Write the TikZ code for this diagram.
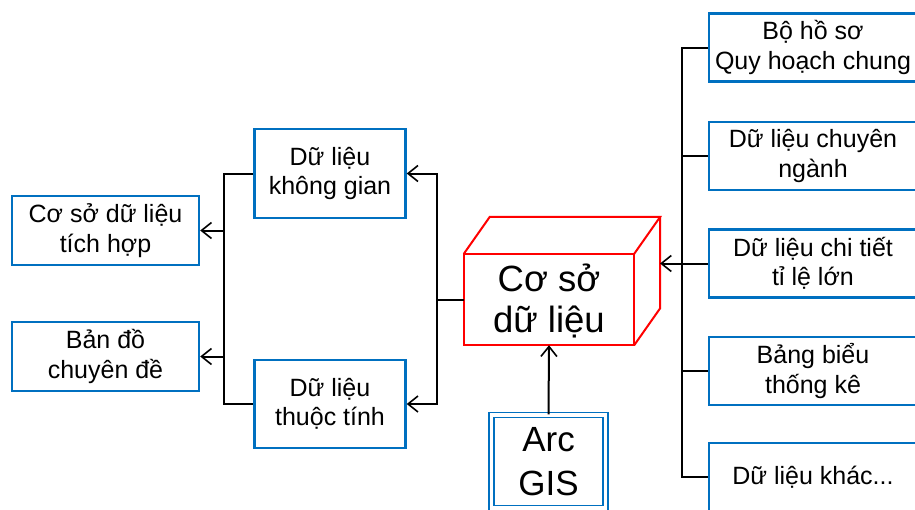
\documentclass[tikz,border=0pt]{standalone}
\usepackage{fontspec}
\setmainfont{Liberation Sans}
\usetikzlibrary{arrows.meta,calc}
\definecolor{boxblue}{RGB}{0,112,192}
\begin{document}
\begin{tikzpicture}[x=1pt,y=-1pt,
  box/.style={draw=boxblue, line width=2.4pt, align=center, inner sep=0pt,
    font=\fontsize{25}{29.5}\selectfont},
  link/.style={draw=black, line width=2pt},
  arr/.style={link, -{Straight Barb[length=10pt,width=16pt,line width=1.6pt]}},
  cube/.style={draw=red, line width=2pt, line join=miter}]
\clip (0,0) rectangle (915,509);
\fill[white] (0,0) rectangle (915,509);

% output products (left)
\node[box, minimum width=187pt, minimum height=69pt] (tichhop) at (105.5,230.5) {Cơ sở dữ liệu\\tích hợp};
\node[box, minimum width=187pt, minimum height=69pt] (bando) at (105.5,356.5) {Bản đồ\\chuyên đề};

% data types
\node[box, minimum width=151pt, minimum height=89pt] (khonggian) at (330,173.5) {Dữ liệu\\không gian};
\node[box, minimum width=151pt, minimum height=88pt] (thuoctinh) at (330,404) {Dữ liệu\\thuộc tính};

% central database drawn as a box in perspective
\node[minimum width=170pt, minimum height=91pt, inner sep=0pt] (front) at (549,299.5) {};
\coordinate (btl) at ($(front.north west)+(26,-37)$);
\coordinate (btr) at ($(front.north east)+(26,-37)$);
\coordinate (bbr) at ($(front.south east)+(26,-37)$);
\draw[cube] (front.north west) rectangle (front.south east);
\draw[cube] (front.north west) -- (btl) -- (btr) -- (front.north east);
\draw[cube] (btr) -- (bbr) -- (front.south east);
\node[align=center, font=\fontsize{36.5}{41}\selectfont] (fronttext) at (549,301) {Cơ sở\\dữ liệu};
\coordinate (cubeR) at (660,263.5);

% GIS software
\node[draw=boxblue, line width=1.4pt, double=white, double distance=3.4pt,
  minimum width=114pt, minimum height=93pt, inner sep=0pt,
  align=center, font=\fontsize{35}{44}\selectfont] (arcgis) at (548.5,461.5) {Arc\\GIS};

% source data (right)
\foreach \n/\y/\t in {r1/47.5/{Bộ hồ sơ\\Quy hoạch chung},
                      r2/156/{Dữ liệu chuyên\\ngành},
                      r3/263.5/{Dữ liệu chi tiết\\tỉ lệ lớn},
                      r4/371/{Bảng biểu\\thống kê},
                      r5/477/{Dữ liệu khác...}}
  \node[box, minimum width=208pt, minimum height=68pt] (\n) at (813,\y) {\t};

% right bus into the database
\draw[link] (r1.west) -- ++(-26,0) |- (r5.west);
\draw[link] (r2.west) -- ++(-26,0);
\draw[link] (r4.west) -- ++(-26,0);
\draw[arr] (r3.west) -- (cubeR);

% GIS into the database
\draw[arr] (arcgis.north) -- (front.south);

% database out to the two data types
\draw[arr] (front.west) -- ++(-27,0) |- (khonggian.east);
\draw[arr] (front.west) -- ++(-27,0) |- (thuoctinh.east);

% data types out to the products
\coordinate (lb) at (224,0);
\draw[link] (khonggian.west) -| (lb |- thuoctinh.west) -- (thuoctinh.west);
\draw[arr] (lb |- tichhop.east) -- (tichhop.east);
\draw[arr] (lb |- bando.east) -- (bando.east);
\end{tikzpicture}
\end{document}
